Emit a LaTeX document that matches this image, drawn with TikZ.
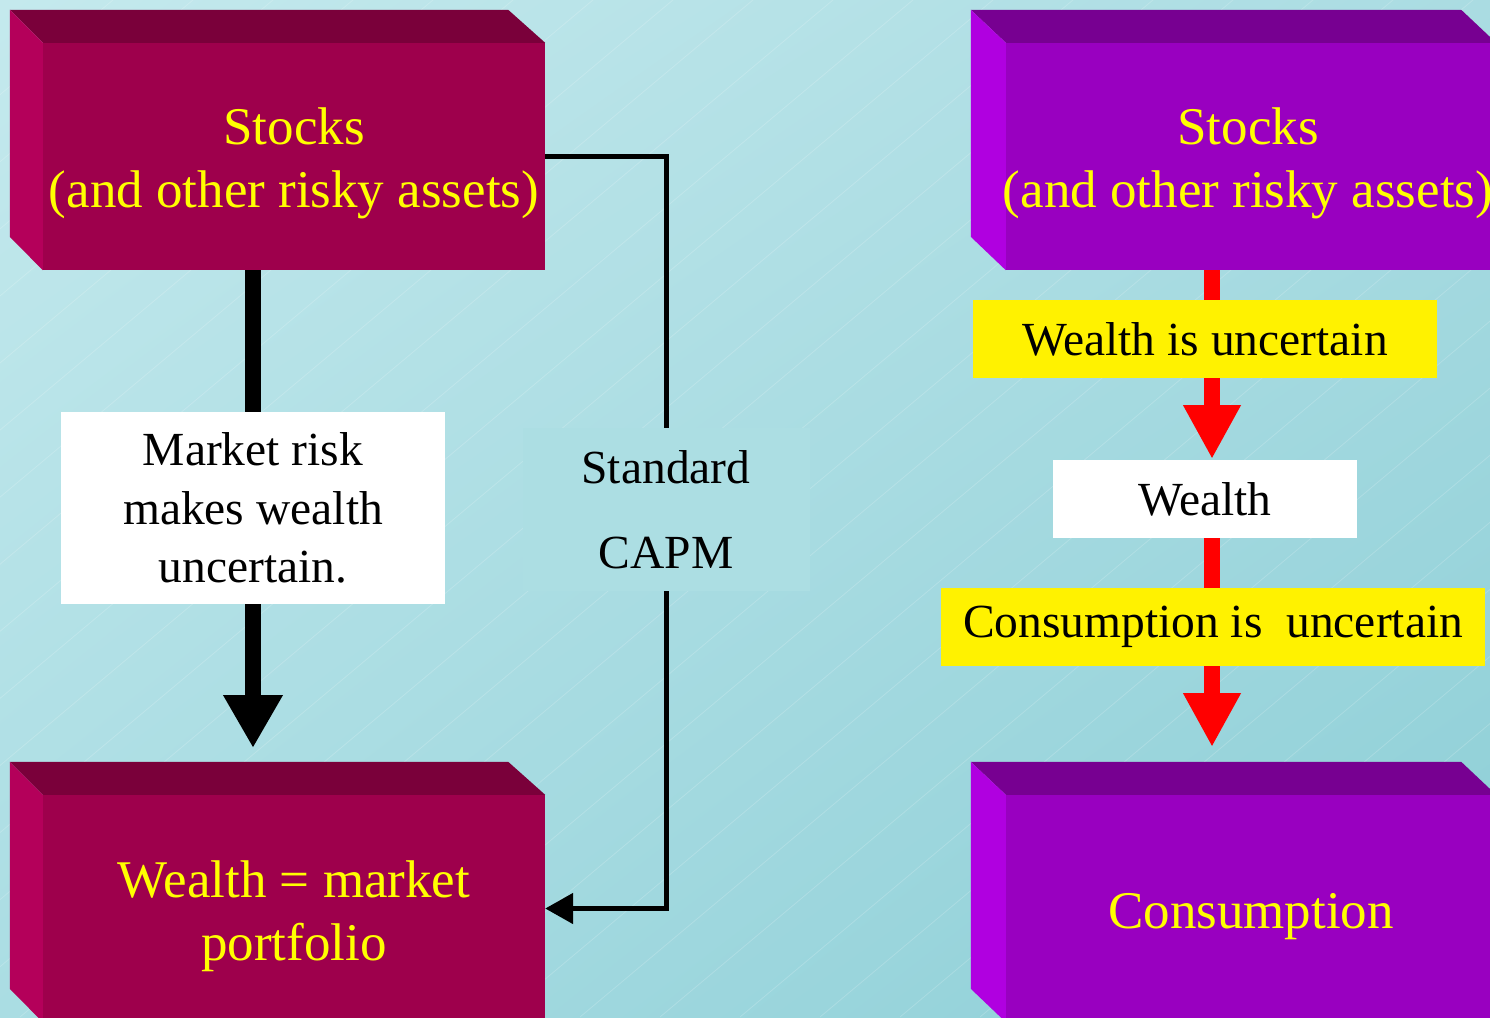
\documentclass[tikz,border=0pt]{standalone}
\usepackage{fontspec}
\setmainfont{Liberation Serif}
\usetikzlibrary{arrows.meta,calc,shadings}
\definecolor{bgUL}{RGB}{196,233,237}
\definecolor{bgUR}{RGB}{170,220,226}
\definecolor{bgLL}{RGB}{170,221,227}
\definecolor{bgLR}{RGB}{140,206,214}
\definecolor{frontL}{RGB}{158,0,76}
\definecolor{topL}{RGB}{122,0,58}
\definecolor{sideL}{RGB}{180,0,90}
\definecolor{frontR}{RGB}{153,0,192}
\definecolor{topR}{RGB}{119,0,145}
\definecolor{sideR}{RGB}{176,0,224}
\definecolor{capmfill}{RGB}{172,222,227}
\definecolor{txtyellow}{RGB}{255,255,0}
\begin{document}
\begin{tikzpicture}[x=1pt,y=-1pt,
  boxL/.style={rectangle,fill=frontL,minimum width=502pt,minimum height=227pt,inner sep=0pt},
  boxR/.style={rectangle,fill=frontR,minimum width=490pt,minimum height=227pt,inner sep=0pt},
  bigtxt/.style={text=txtyellow,align=center,inner sep=0pt,font=\fontsize{53}{63}\selectfont},
  smallbox/.style={rectangle,inner sep=0pt,align=center,text=black,font=\fontsize{47.5}{58.5}\selectfont},
  blkarrow/.style={draw=black,line width=16pt,-{Triangle[width=56pt,length=53pt]}},
  redarrow/.style={draw=red,line width=16pt,-{Triangle[width=54pt,length=54pt]}},
  capmline/.style={draw=black,line width=5pt},
  bgline/.style={draw=white,opacity=0.18,line width=0.8pt}
]
\useasboundingbox (0,0) rectangle (1490,1017);
\clip (0,0) rectangle (1490,1017);
% background
\shade[upper left=bgUL,upper right=bgUR,lower left=bgLL,lower right=bgLR] (0,0) rectangle (1490,1017);
\foreach \i in {-1100,-1020,...,1500} {
  \draw[bgline] (\i,1017) -- ++(1300,-1090);
}

% ---- left column boxes ----
\node[boxL] (sL) at (294,156.5) {};
\fill[topL] (sL.north west) -- ++(-33,-33) -- ($(sL.north east)+(-37,-33)$) -- (sL.north east) -- cycle;
\fill[sideL] (sL.north west) -- ++(-33,-33) -- ++(0,227) -- (sL.south west) -- cycle;
\node[bigtxt] (sLt) at (294,163) {Stocks\\(and other risky assets)};

\node[boxL] (wL) at (294,908.5) {};
\fill[topL] (wL.north west) -- ++(-33,-33) -- ($(wL.north east)+(-37,-33)$) -- (wL.north east) -- cycle;
\fill[sideL] (wL.north west) -- ++(-33,-33) -- ++(0,227) -- (wL.south west) -- cycle;
\node[bigtxt] (wLt) at (294,916) {Wealth = market\\portfolio};

% left thick arrow
\coordinate (tipL) at (253,748);
\draw[blkarrow] (sL.south -| tipL) -- (tipL);
\node[smallbox,fill=white,minimum width=384pt,minimum height=192pt] (mr) at (253,508)
  {Market risk\\makes wealth\\uncertain.};

% CAPM connector
\node[rectangle,fill=capmfill,minimum width=287pt,minimum height=163pt,inner sep=0pt,
  align=center,font=\fontsize{47.5}{85}\selectfont] (capm) at (666,509.5) {Standard\\CAPM};
\draw[capmline] (sL.east) -| (capm.north);
\draw[capmline,-{Triangle[width=30pt,length=28pt]}] (capm.south) |- (wL.east);

% ---- right column boxes ----
\node[boxR] (sR) at (1251,156.5) {};
\fill[topR] (sR.north west) -- ++(-35,-33) -- ($(sR.north east)+(-35,-33)$) -- (sR.north east) -- cycle;
\fill[sideR] (sR.north west) -- ++(-35,-33) -- ++(0,227) -- (sR.south west) -- cycle;
\node[bigtxt] (sRt) at (1248,163) {Stocks\\(and other risky assets)};

\node[boxR] (cR) at (1251,908.5) {};
\fill[topR] (cR.north west) -- ++(-35,-33) -- ($(cR.north east)+(-35,-33)$) -- (cR.north east) -- cycle;
\fill[sideR] (cR.north west) -- ++(-35,-33) -- ++(0,227) -- (cR.south west) -- cycle;
\node[bigtxt,anchor=base] (cRt) at (1251,928) {Consumption};

% red arrows and boxes
\coordinate (tipR1) at (1212,459);
\coordinate (tipR2) at (1212,747);
\draw[redarrow] (sR.south -| tipR1) -- (tipR1);
\node[smallbox,fill=yellow,minimum width=464pt,minimum height=78pt] (wu) at (1205,339) {Wealth is uncertain};
\node[smallbox,fill=white,minimum width=304pt,minimum height=78pt] (wl) at (1205,499) {Wealth};
\draw[redarrow] (wl.south -| tipR2) -- (tipR2);
\node[smallbox,fill=yellow,minimum width=544pt,minimum height=78pt] (cu) at (1213,627) {Consumption is \ uncertain};
\end{tikzpicture}
\end{document}
